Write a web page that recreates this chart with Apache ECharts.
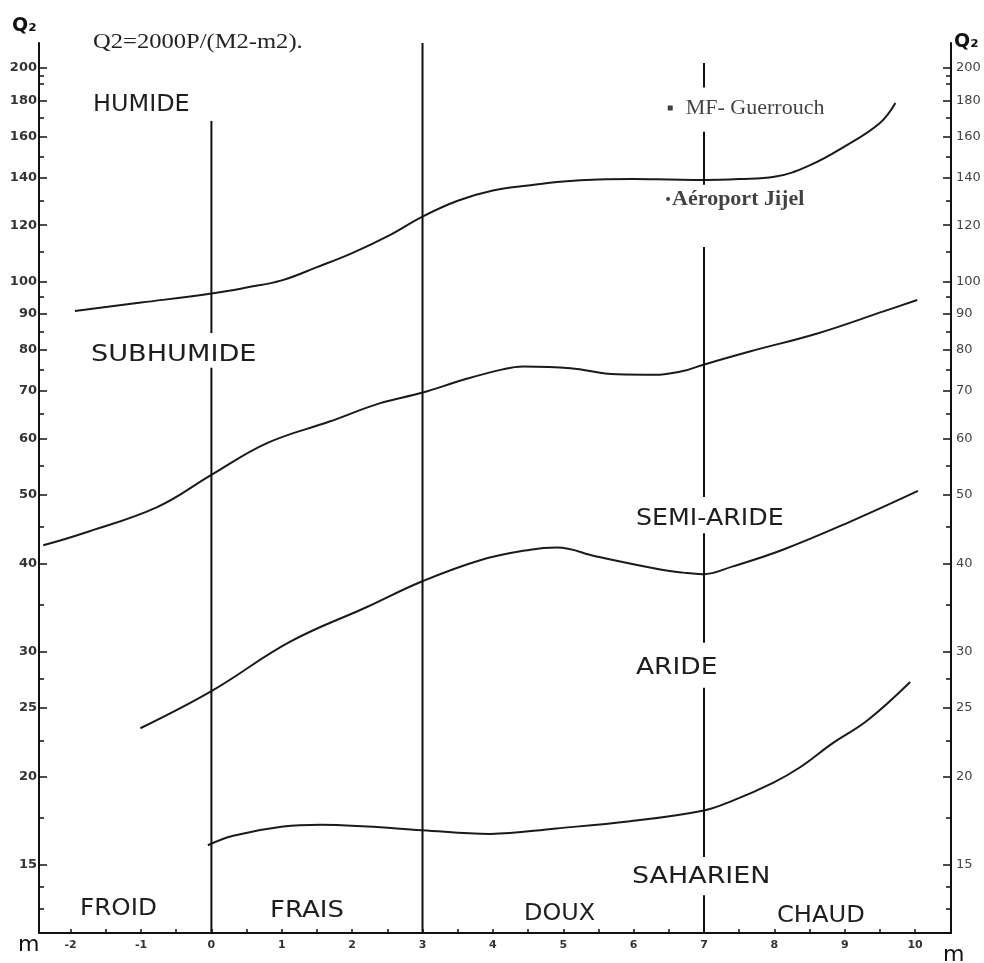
<!DOCTYPE html>
<html><head><meta charset="utf-8">
<script src="https://cdn.jsdelivr.net/npm/echarts@6/dist/echarts.min.js"></script>
<style>html,body{margin:0;padding:0;background:#fff}#c{width:984px;height:963px}</style>
</head><body><div id="c"></div>
<script>
// ---------- data (Emberger climagram, Q2 on a log scale) ----------
const Q_MIN = 12.03, Q_MAX = 216.9;      // Q2 axis extent
const M_MIN = -2.45, M_MAX = 10.51;      // m axis extent (°C)

const xTickLabels = [-2,-1,0,1,2,3,4,5,6,7,8,9,10];
const xMinorTicks = [-2,-1.5,-1,-0.5,0,0.5,1,1.5,2,2.5,3,3.5,4,4.5,5,5.5,6,6.5,7,7.5,8,8.5,9,9.5,10];
const yTickLabels = [15,20,25,30,40,50,60,70,80,90,100,120,140,160,180,200];
const yMinorTicks = [13,14,17.5,22.5,27.5,35,45,55,65,75,85,95,110,130,150,170,190,195];

// limit curves between bioclimatic stages
const humideM = [-1.94, -1, 0, 0.5, 1, 1.5, 2, 2.5, 3, 3.5, 4, 4.5, 5, 5.5, 6, 6.5, 7, 7.5, 8, 8.5, 9, 9.5, 9.72];
const humideQ = [90.8, 93.3, 96.1, 98.0, 100.3, 104.7, 109.6, 115.7, 123.4, 129.9, 134.3, 136.5, 138.3, 139.2, 139.4, 139.2, 139.0, 139.4, 140.4, 145.7, 155.0, 167.3, 178.5];

const subhumideM = [-2.39, -1.82, -0.77, 0, 0.79, 1.68, 2.40, 2.99, 3.58, 4.14, 4.43, 5.10, 5.76, 6.30, 6.70, 6.98, 7.65, 8.61, 9.54, 10.03];
const subhumideQ = [42.4, 44.1, 48.0, 53.3, 59.1, 63.4, 67.3, 69.6, 72.6, 75.1, 75.8, 75.4, 73.9, 73.8, 74.7, 76.2, 79.6, 84.4, 90.6, 94.1];

const semiAridM = [-1.01, 0, 1.12, 2.21, 2.99, 3.82, 4.53, 4.91, 5.47, 6.38, 6.70, 6.98, 7.41, 8.12, 9.08, 10.04];
const semiAridQ = [23.4, 26.4, 31.0, 34.7, 37.7, 40.4, 41.8, 42.1, 40.9, 39.2, 38.8, 38.6, 39.6, 41.8, 45.8, 50.6];

const aridM = [-0.05, 0.31, 1.02, 1.55, 2.21, 2.99, 3.96, 4.90, 5.95, 6.98, 7.41, 7.98, 8.36, 8.83, 9.32, 9.93];
const aridQ = [16.0, 16.5, 17.0, 17.1, 17.0, 16.8, 16.6, 16.9, 17.3, 17.9, 18.5, 19.6, 20.6, 22.3, 24.0, 27.2];

// vertical separators of the winter-temperature classes (m = 0, 3, 7), drawn as segments in Q2
const sepM = [0, 3, 7];
const sepSegments = [
  [[168.4, 84.5], [75.5, Q_MIN]],
  [[Q_MAX, Q_MIN]],
  [[203.3, 187.7], [162.5, 136.8], [111.8, 49.6], [44.1, 30.9], [26.7, 15.4], [13.6, Q_MIN]]
];

// stations
const stationNames = ['MF- Guerrouch', 'Aéroport Jijel'];
const stationM = [6.52, 6.49];
const stationQ = [175.6, 130.6];

// ---------- chart ----------
const lg = v => Math.log10(v);
const fmtQ = v => String(Math.round(Math.pow(10, v)));
const INK = '#1a1a1a';

const series = [];
[[humideM, humideQ], [subhumideM, subhumideQ], [semiAridM, semiAridQ], [aridM, aridQ]].forEach(([ms, qs]) => {
  series.push({
    type: 'line', smooth: 0.4, showSymbol: false, symbol: 'none', silent: true,
    lineStyle: { color: INK, width: 2 },
    data: ms.map((m, i) => [m, lg(qs[i])])
  });
});
sepM.forEach((m, k) => {
  sepSegments[k].forEach(seg => {
    series.push({
      type: 'line', showSymbol: false, symbol: 'none', silent: true,
      lineStyle: { color: '#111', width: 2 },
      data: [[m, lg(seg[0])], [m, lg(seg[1])]]
    });
  });
});
series.push({
  type: 'scatter', silent: true,
  data: [
    { value: [stationM[0], lg(stationQ[0])], symbol: 'rect', symbolSize: 5,
      label: { show: true, position: 'right', distance: 13, formatter: stationNames[0],
        fontFamily: '"Liberation Serif", serif', fontSize: 22, color: '#111' } },
    { value: [stationM[1], lg(stationQ[1])], symbol: 'circle', symbolSize: 4,
      label: { show: true, position: 'right', distance: 2, formatter: stationNames[1],
        fontFamily: '"Liberation Serif", serif', fontSize: 22, fontWeight: 'bold', color: '#111' } }
  ],
  itemStyle: { color: '#111' }
});

const yBase = {
  type: 'value', min: lg(Q_MIN), max: lg(Q_MAX), splitLine: { show: false }
};
const labelFont = { fontFamily: '"DejaVu Sans", sans-serif', fontSize: 13 };

const zone = (text, x, y, fs, sx) => ({
  type: 'text', x: x, y: y, scaleX: sx || 1.1, silent: true,
  style: { text: text, fontFamily: '"DejaVu Sans", sans-serif', fontSize: fs || 23, fill: '#1e1e1e',
           align: 'left', verticalAlign: 'middle', textAlign: 'left', textVerticalAlign: 'middle' }
});

const option = {
  backgroundColor: '#fff',
  animation: false,
  grid: { left: 39, right: 33, top: 43, bottom: 30, containLabel: false, outerBoundsMode: 'none' },
  xAxis: {
    type: 'value', min: M_MIN, max: M_MAX, splitLine: { show: false },
    axisLine: { show: true, onZero: false, lineStyle: { color: '#111', width: 2 } },
    axisTick: { show: true, inside: true, length: 4, customValues: xMinorTicks, lineStyle: { color: '#111', width: 1.5 } },
    axisLabel: { customValues: xTickLabels, margin: 7, fontSize: 11, fontWeight: 'bold', color: '#333', fontFamily: '"DejaVu Sans", sans-serif' }
  },
  yAxis: [
    Object.assign({}, yBase, {
      position: 'left',
      axisLine: { show: true, onZero: false, lineStyle: { color: '#111', width: 2 } },
      axisTick: { show: true, inside: true, length: 8, customValues: yTickLabels.map(lg), lineStyle: { color: '#111', width: 1.5 } },
      axisLabel: Object.assign({ customValues: yTickLabels.map(lg), formatter: fmtQ, margin: 2, fontWeight: 'bold', color: '#333' }, labelFont)
    }),
    Object.assign({}, yBase, {
      position: 'right',
      axisLine: { show: true, onZero: false, lineStyle: { color: '#111', width: 2 } },
      axisTick: { show: true, inside: true, length: 8, customValues: yTickLabels.map(lg), lineStyle: { color: '#111', width: 1.5 } },
      axisLabel: Object.assign({ customValues: yTickLabels.map(lg), formatter: fmtQ, margin: 5, color: '#444' }, labelFont)
    }),
    Object.assign({}, yBase, {
      position: 'left', offset: 0, axisLine: { show: false, onZero: false }, axisLabel: { show: false },
      axisTick: { show: true, inside: true, length: 5, customValues: yMinorTicks.map(lg), lineStyle: { color: '#111', width: 1.5 } }
    }),
    Object.assign({}, yBase, {
      position: 'right', offset: 0, axisLine: { show: false, onZero: false }, axisLabel: { show: false },
      axisTick: { show: true, inside: true, length: 5, customValues: yMinorTicks.map(lg), lineStyle: { color: '#111', width: 1.5 } }
    })
  ],
  graphic: { elements: [
    { type: 'text', x: 12, y: 26, silent: true,
      style: { text: 'Q₂', fontFamily: '"DejaVu Sans", sans-serif', fontSize: 19, fontWeight: 'bold', fill: '#111', verticalAlign: 'middle', textVerticalAlign: 'middle' } },
    { type: 'text', x: 954, y: 42, silent: true,
      style: { text: 'Q₂', fontFamily: '"DejaVu Sans", sans-serif', fontSize: 19, fontWeight: 'bold', fill: '#111', verticalAlign: 'middle', textVerticalAlign: 'middle' } },
    { type: 'text', x: 18, y: 945, silent: true,
      style: { text: 'm', fontFamily: '"DejaVu Sans", sans-serif', fontSize: 22, fill: '#111', verticalAlign: 'middle', textVerticalAlign: 'middle' } },
    { type: 'text', x: 943, y: 955, silent: true,
      style: { text: 'm', fontFamily: '"DejaVu Sans", sans-serif', fontSize: 22, fill: '#111', verticalAlign: 'middle', textVerticalAlign: 'middle' } },
    { type: 'text', x: 93, y: 42, scaleX: 1.17, silent: true,
      style: { text: 'Q2=2000P/(M2-m2).', fontFamily: '"Liberation Serif", serif', fontSize: 21, fill: '#222', verticalAlign: 'middle', textVerticalAlign: 'middle' } },
    zone('HUMIDE', 93, 105, 23, 1.04),
    zone('SUBHUMIDE', 91, 355, 23, 1.18),
    zone('SEMI-ARIDE', 636, 519, 23, 1.10),
    zone('ARIDE', 636, 668, 23, 1.15),
    zone('SAHARIEN', 632, 877, 23, 1.17),
    zone('FROID', 80, 909, 23, 1.07),
    zone('FRAIS', 270, 911, 23, 1.13),
    zone('DOUX', 524, 914, 23, 1.04),
    zone('CHAUD', 777, 916, 23, 1.05)
  ] },
  series: series
};
const chart = echarts.init(document.getElementById('c'), null, { renderer: 'canvas' });
chart.setOption(option);
</script></body></html>
